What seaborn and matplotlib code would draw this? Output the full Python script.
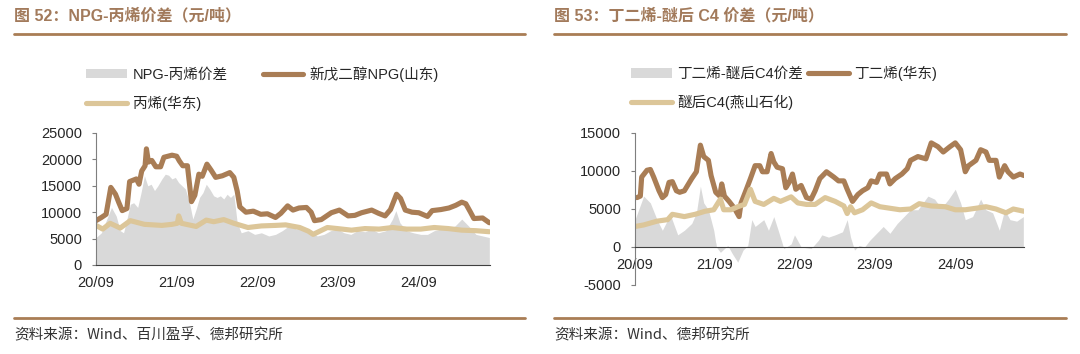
import numpy as np
import pandas as pd
import matplotlib
matplotlib.use("Agg")
import matplotlib.pyplot as plt
import matplotlib.dates as mdates
from matplotlib.patches import Patch
from matplotlib.lines import Line2D
import seaborn as sns

# ---- data (months counted from 2020-09-01, values in yuan/ton) ----
npg_months = [0, 0.8, 1.5, 2.2, 2.9, 3.4, 3.9, 4.6, 5.0, 6.0, 6.4, 6.8, 7.3, 7.5, 7.8, 8.3, 8.9, 9.6,
              10.1, 11.3, 12.0, 12.4, 12.9, 13.6, 14.2, 14.7, 15.3, 15.8, 16.5, 17.1, 17.8, 18.8, 19.9,
              20.5, 21.0, 21.4, 22.3, 23.4, 24.5, 25.5, 26.7, 27.5, 28.5, 29.3, 30.2, 31.3, 32.0, 32.5,
              33.5, 35.0, 36.2, 37.5, 38.5, 39.5, 41.0, 42.0, 43.0, 43.8, 44.7, 45.3, 46.0, 47.0, 48.0,
              49.3, 50.0, 51.3, 52.5, 53.5, 54.4, 55.0, 55.7, 56.2, 57.5, 58.5]
npg_price = [8400, 9000, 9600, 14700, 13400, 11800, 10300, 10700, 15800, 16300, 15300, 17800, 18800, 22000,
             19500, 19800, 18600, 18600, 20400, 20800, 20600, 19700, 18800, 18800, 12000, 13200, 17200,
             16800, 19100, 18000, 16600, 16900, 17500, 16600, 14000, 11000, 10000, 10200, 9600, 9700, 9000,
             9800, 11200, 10400, 10800, 10900, 10000, 8400, 8600, 9900, 10400, 9300, 9400, 9900, 10400,
             9800, 9300, 10500, 13400, 12600, 10400, 10000, 9900, 9200, 10300, 10500, 10800, 11300, 11900,
             11600, 10000, 8800, 8900, 8000]

propylene_months = [0, 1.0, 2.1, 3.6, 5.1, 7.2, 9.8, 11.3, 12.1, 12.3, 12.7, 14.9, 16.4, 17.5, 19.0, 20.5,
                    22.6, 24.6, 26.7, 28.2, 30.3, 31.6, 32.3, 34.4, 35.9, 38.0, 40.0, 42.1, 44.1, 46.2,
                    48.3, 50.3, 52.4, 54.4, 56.5, 58.5]
propylene_price = [7500, 6800, 7900, 7000, 8400, 7700, 7500, 7700, 7900, 9300, 7900, 7300, 8500, 8200, 8600,
                   7900, 7100, 7400, 7500, 7600, 7100, 6400, 5800, 7100, 6900, 6600, 6900, 6800, 7100, 6800,
                   6800, 7100, 6900, 6600, 6500, 6300]

npg_spread_months = [0, 0.8, 1.8, 2.3, 3.0, 3.6, 4.1, 4.6, 5.1, 5.6, 6.2, 6.7, 7.2, 7.7, 8.2, 8.7, 9.2, 9.8,
                     10.3, 10.8, 11.3, 11.8, 12.3, 12.8, 13.3, 13.9, 14.4, 14.9, 15.4, 15.9, 16.4, 16.9,
                     17.5, 18.0, 18.5, 19.0, 19.5, 20.0, 20.5, 21.0, 21.6, 22.6, 23.6, 24.6, 25.7, 26.7,
                     27.7, 28.7, 29.8, 30.8, 31.8, 32.9, 33.9, 34.9, 35.9, 36.9, 37.9, 38.9, 40.0, 41.0,
                     42.0, 43.1, 44.1, 44.6, 45.2, 46.2, 47.2, 48.3, 49.3, 50.3, 51.3, 52.4, 53.4, 54.4,
                     55.4, 56.5, 57.5, 58.5]
npg_spread = [5200, 6100, 9300, 10900, 9300, 6500, 6100, 8700, 11500, 11800, 10900, 13700, 16900, 15000,
              15300, 14100, 15000, 16300, 17200, 17000, 16300, 16600, 15600, 15000, 14400, 11800, 8700,
              10600, 12800, 13700, 15300, 14400, 13100, 12800, 13100, 12500, 13400, 12800, 13400, 8000,
              6100, 6500, 5800, 6100, 5500, 5800, 6500, 7400, 6800, 7100, 6500, 5500, 5800, 6500, 6800,
              6100, 5800, 6500, 6300, 6800, 6100, 6500, 8700, 10300, 8000, 6500, 6100, 5800, 5800, 6500,
              6800, 6800, 7400, 8700, 7400, 5800, 5500, 5200]

bd_months = [0.3, 0.8, 1.0, 1.8, 2.3, 2.8, 3.6, 4.1, 4.6, 5.1, 5.6, 6.2, 6.7, 7.4, 8.5, 9.2, 9.8, 10.3, 11.0,
             11.4, 12.1, 12.7, 13.0, 13.4, 14.1, 14.9, 15.6, 15.9, 16.7, 17.3, 18.0, 18.7, 19.1, 19.8, 20.4,
             20.8, 21.3, 22.1, 22.6, 23.1, 23.6, 24.1, 24.9, 25.7, 26.4, 27.0, 27.7, 28.7, 29.8, 30.5, 31.3,
             31.8, 32.6, 33.4, 34.1, 34.9, 35.4, 36.2, 36.7, 37.7, 38.2, 39.0, 40.0, 40.8, 41.3, 42.4, 43.6,
             44.4, 45.4, 46.2, 47.2, 48.0, 48.8, 49.5, 50.0, 51.1, 51.8, 52.6, 53.1, 54.1, 54.6, 55.4, 55.9,
             56.7, 57.7, 58.3]
bd_price = [6500, 6700, 9200, 10100, 10200, 9200, 7400, 6500, 6900, 8500, 8600, 7400, 7200, 7400, 9000, 9900,
            13400, 11900, 11400, 9400, 7200, 6700, 8300, 6700, 6000, 5100, 4000, 5800, 7600, 9000, 10700,
            10700, 9900, 9900, 12300, 11200, 10500, 10300, 7800, 8500, 9600, 7600, 8100, 6500, 6300, 7400,
            9000, 9900, 9200, 8700, 8700, 7600, 6000, 6900, 7400, 7800, 8700, 8500, 9600, 9600, 8300, 9000,
            9600, 10300, 11400, 11900, 11600, 13700, 13200, 12500, 13200, 13700, 12800, 9900, 10700, 11400,
            12800, 12500, 11400, 11400, 9200, 10700, 9900, 9200, 9600, 9400]

c4_months = [0, 1.3, 3.3, 4.9, 5.6, 7.4, 9.0, 10.5, 11.8, 12.8, 13.3, 14.4, 15.4, 16.4, 17.3, 18.0, 19.3,
             20.8, 21.8, 23.4, 24.4, 25.7, 27.0, 28.5, 30.0, 31.3, 31.8, 32.3, 32.9, 34.1, 35.4, 36.7, 38.2,
             39.7, 41.3, 42.6, 44.4, 46.5, 48.0, 49.5, 51.1, 52.6, 54.1, 55.6, 56.7, 58.3]
c4_price = [2700, 2900, 3400, 3600, 4300, 4000, 4300, 4700, 4900, 6300, 4900, 4900, 5300, 5600, 7600, 6000,
            5600, 6400, 6000, 6600, 5800, 5600, 5600, 6500, 6000, 5400, 4400, 5300, 4500, 4900, 5800, 5300,
            5100, 4900, 5000, 5700, 5400, 5300, 4900, 4900, 5100, 5300, 5000, 4500, 5000, 4700]

bd_spread_months = [0, 1.3, 2.3, 3.3, 4.1, 4.9, 5.4, 6.4, 7.4, 8.5, 9.2, 9.8, 10.3, 11.0, 11.8, 12.2, 12.8,
                    13.9, 14.6, 15.4, 16.2, 16.9, 17.5, 18.0, 19.3, 20.0, 20.8, 21.6, 22.3, 23.4, 23.9, 24.9,
                    26.4, 27.5, 28.0, 29.0, 30.0, 31.1, 31.8, 32.3, 32.9, 33.6, 34.4, 35.2, 36.2, 37.2, 38.2,
                    39.3, 40.3, 41.3, 42.4, 43.9, 44.9, 45.9, 47.0, 48.0, 48.8, 49.5, 50.6, 51.8, 52.6, 53.6,
                    54.6, 55.4, 56.2, 57.2, 58.2]
bd_spread = [3600, 6700, 5800, 3600, 2200, 3600, 4000, 1600, 2200, 3100, 4500, 8000, 5800, 4900, 2200, 0,
             -700, 200, -900, -2000, -400, 200, 3600, 2700, 3600, 2200, 4000, 1800, -200, 400, 1600, 0, -200,
             900, 1600, 1300, 1600, 2000, 3600, 1300, -400, 200, 0, 900, 1800, 2700, 1800, 3100, 4000, 4900,
             4900, 6700, 6300, 5100, 6300, 7600, 5800, 3600, 4000, 6300, 4900, 4500, 2200, 4900, 3600, 3400,
             4000]

x_ticks = ["2020-09-01", "2021-09-01", "2022-09-01", "2023-09-01", "2024-09-01"]

BROWN = "#A97D55"
TAN = "#DCC699"
GREY = "#D9D9D9"
TITLE_C = "#A27A5B"

start = pd.Timestamp("2020-09-01")


def to_dates(months):
    return start + pd.to_timedelta(np.array(months) * 30.44, unit="D")


sns.set_style("white")
plt.rcParams["font.family"] = ["Liberation Sans", "Noto Sans CJK SC"]
plt.rcParams["axes.unicode_minus"] = False

W, H = 1080, 354
fig = plt.figure(figsize=(W / 100, H / 100), dpi=100)


def px_axes(x0, x1, ytop, ybot):
    return fig.add_axes([x0 / W, 1 - ybot / H, (x1 - x0) / W, (ybot - ytop) / H])


def style_axes(ax, end_month):
    for s in ["top", "right"]:
        ax.spines[s].set_visible(False)
    ax.spines["left"].set_color("#7f7f7f")
    ax.spines["bottom"].set_color("#404040")
    ax.spines["left"].set_linewidth(0.8)
    ax.spines["bottom"].set_linewidth(0.8)
    ax.set_xticks(pd.to_datetime(x_ticks))
    ax.xaxis.set_major_formatter(mdates.DateFormatter("%y/%m"))
    ax.tick_params(axis="x", direction="in", length=3, width=0.8, color="#404040", pad=8,
                   labelsize=10.5, bottom=True)
    ax.tick_params(axis="y", direction="out", length=3, width=0.8, color="#7f7f7f", pad=7,
                   labelsize=10.5, left=True)
    ax.set_xlim(start, to_dates([end_month])[0])
    ax.set_xlabel("")
    ax.set_ylabel("")
    ax.grid(False)


def draw_panel(ax, spread_m, spread_v, a_m, a_v, b_m, b_v):
    ax.fill_between(to_dates(spread_m), 0, spread_v, color=GREY, linewidth=0)
    sns.lineplot(x=to_dates(a_m), y=a_v, ax=ax, color=BROWN, linewidth=3.7, solid_capstyle="round")
    sns.lineplot(x=to_dates(b_m), y=b_v, ax=ax, color=TAN, linewidth=3.7, solid_capstyle="round")


# ---- left panel ----
ax1 = px_axes(96, 490, 133, 265)
draw_panel(ax1, npg_spread_months, npg_spread, npg_months, npg_price, propylene_months, propylene_price)
style_axes(ax1, 58.6)
ax1.set_ylim(0, 25000)
ax1.set_yticks([0, 5000, 10000, 15000, 20000, 25000])

# ---- right panel ----
ax2 = px_axes(635, 1024, 133, 285)
draw_panel(ax2, bd_spread_months, bd_spread, bd_months, bd_price, c4_months, c4_price)
style_axes(ax2, 58.3)
ax2.set_ylim(-5000, 15000)
ax2.set_yticks([-5000, 0, 5000, 10000, 15000])
ax2.spines["bottom"].set_position(("data", 0))

# ---- legends ----
leg_kw = dict(frameon=False, ncol=2, fontsize=10.5, handlelength=2.8, handleheight=0.6,
              handletextpad=0.4, labelspacing=0.95, borderaxespad=0, loc="upper left")
h_grey = Patch(facecolor=GREY, edgecolor="none")
h_brown = Line2D([], [], color=BROWN, linewidth=3.7, solid_capstyle="round")
h_tan = Line2D([], [], color=TAN, linewidth=3.7, solid_capstyle="round")

fig.legend([h_grey, h_tan, h_brown], ["NPG-丙烯价差", "丙烯(华东)", "新戊二醇NPG(山东)"],
           bbox_to_anchor=(80 / W, 1 - 60 / H), columnspacing=2.4, **leg_kw)
fig.legend([h_grey, h_tan, h_brown], ["丁二烯-醚后C4价差", "醚后C4(燕山石化)", "丁二烯(华东)"],
           bbox_to_anchor=(625 / W, 1 - 60 / H), columnspacing=0.3, **leg_kw)

# ---- titles, rules and sources ----
title_kw = dict(fontsize=11.5, fontweight="bold", color=TITLE_C, va="center", ha="left")
fig.text(14 / W, 1 - 16 / H, "图 52：NPG-丙烯价差（元/吨）", **title_kw)
fig.text(554 / W, 1 - 16 / H, "图 53：丁二烯-醚后 C4 价差（元/吨）", **title_kw)

for x0, x1 in [(14, 525), (554, 1066)]:
    for y in [34, 318]:
        fig.add_artist(Line2D([x0 / W, x1 / W], [1 - y / H, 1 - y / H], color=BROWN,
                              linewidth=2.0, transform=fig.transFigure))

src_kw = dict(fontsize=10.5, color="#333333", va="center", ha="left",
              family=["Noto Sans CJK SC", "Liberation Sans"])
fig.text(14 / W, 1 - 335 / H, "资料来源：Wind、百川盈孚、德邦研究所", **src_kw)
fig.text(554 / W, 1 - 335 / H, "资料来源：Wind、德邦研究所", **src_kw)

fig.savefig("out.png", dpi=100)
